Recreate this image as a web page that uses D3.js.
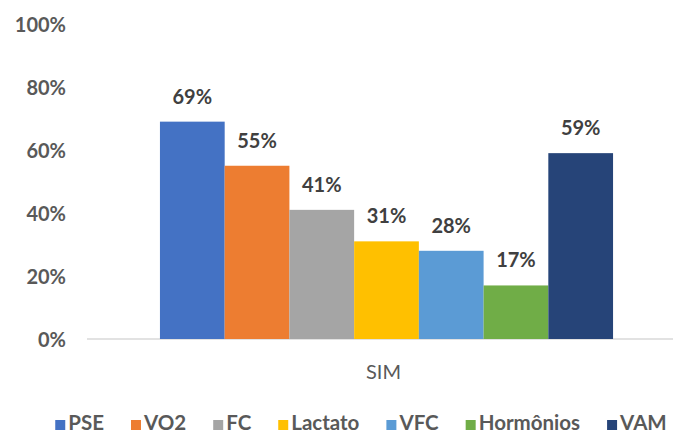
<!DOCTYPE html>
<html>
<head>
<meta charset="utf-8">
<script src="https://cdn.jsdelivr.net/npm/d3@7"></script>
<style>
  body { margin: 0; background: #fff; }
  text { font-family: Lato, "Open Sans", sans-serif; }
</style>
</head>
<body>
<div class="canvas"></div>
<script>
const categories = ["SIM"];
const series = ["PSE", "VO2", "FC", "Lactato", "VFC", "Hormônios", "VAM"];
const values = [0.69, 0.55, 0.41, 0.31, 0.28, 0.17, 0.59];
const colors = ["#4472C4", "#ED7D31", "#A5A5A5", "#FFC000", "#5B9BD5", "#70AD47", "#264478"];
const yTicks = [0, 0.2, 0.4, 0.6, 0.8, 1];

const width = 673, height = 436;

const svg = d3.select('.canvas')
  .append('svg')
  .attr('width', width)
  .attr('height', height);

const y = d3.scaleLinear().domain([0, 1]).range([339, 24]);

const x0 = d3.scaleBand()
  .domain(categories)
  .range([87, 686])
  .paddingInner(0)
  .paddingOuter(0.161);

const x1 = d3.scaleBand()
  .domain(series)
  .range([0, x0.bandwidth()]);

// y axis labels only
const yAxis = svg.append("g")
  .attr("transform", "translate(66,0)")
  .call(d3.axisLeft(y).tickValues(yTicks).tickSize(0).tickPadding(0).tickFormat(d3.format(".0%")));
yAxis.select(".domain").remove();
yAxis.selectAll("text")
  .style("font-size", "20px")
  .style("font-weight", "bold")
  .style("fill", "#595959")
  .attr("dy", "0.35em");

// baseline
svg.append("line")
  .attr("x1", 87).attr("x2", width)
  .attr("y1", y(0)).attr("y2", y(0))
  .style("stroke", "#d9d9d9")
  .style("stroke-width", 1.5);

const group = svg.selectAll(".grp")
  .data(categories)
  .enter().append("g")
  .attr("class", "grp")
  .attr("transform", d => `translate(${x0(d)},0)`);

const rows = series.map((s, i) => ({ s, v: values[i], c: colors[i] }));

group.selectAll("rect")
  .data(rows)
  .enter().append("rect")
  .attr("x", d => x1(d.s))
  .attr("width", x1.bandwidth())
  .attr("y", d => y(d.v))
  .attr("height", d => y(0) - y(d.v))
  .style("fill", d => d.c);

group.selectAll(".lbl")
  .data(rows)
  .enter().append("text")
  .attr("class", "lbl")
  .attr("x", d => x1(d.s) + x1.bandwidth() / 2)
  .attr("y", d => y(d.v) - 18)
  .attr("text-anchor", "middle")
  .style("font-size", "20px")
  .style("font-weight", "bold")
  .style("fill", "#404040")
  .text(d => d3.format(".0%")(d.v));

// category label
svg.selectAll(".cat")
  .data(categories)
  .enter().append("text")
  .attr("class", "cat")
  .attr("x", d => x0(d) + x0.bandwidth() / 2 - 3)
  .attr("y", 379)
  .attr("text-anchor", "middle")
  .style("font-size", "20px")
  .style("fill", "#595959")
  .text(d => d);

// legend
const legend = svg.append("g");
let lx = 0;
rows.forEach((d, i) => {
  const item = legend.append("g").attr("transform", `translate(${lx},0)`);
  item.append("rect")
    .attr("x", 0).attr("y", -10)
    .attr("width", 10).attr("height", 10)
    .style("fill", d.c);
  const t = item.append("text")
    .attr("x", 13).attr("y", 0)
    .style("font-size", "20.5px")
    .style("font-weight", "bold")
    .style("fill", "#595959")
    .text(d.s);
  lx += 13 + t.node().getComputedTextLength() + 27;
});
const legendWidth = lx - 27;
legend.attr("transform", `translate(${361 - legendWidth / 2},430)`);
</script>
</body>
</html>
